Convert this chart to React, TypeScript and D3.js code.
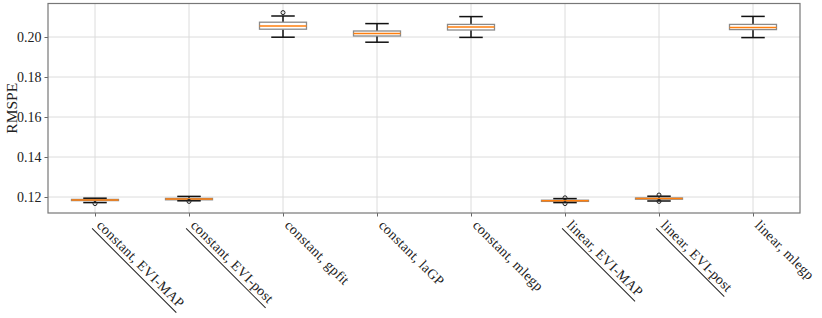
import React, { useRef, useEffect } from 'react'
import { select, scaleLinear, scalePoint, axisLeft, axisBottom } from 'd3'

const categories = [
  'constant, EVI-MAP',
  'constant, EVI-post',
  'constant, gpfit',
  'constant, laGP',
  'constant, mlegp',
  'linear, EVI-MAP',
  'linear, EVI-post',
  'linear, mlegp',
]
const underlined = [true, true, false, false, false, true, true, false]

const whiskerLow = [0.1172, 0.1181, 0.1999, 0.1974, 0.1998, 0.1172, 0.1180, 0.1997]
const q1 = [0.1182, 0.1186, 0.2039, 0.2005, 0.2035, 0.1178, 0.1189, 0.2037]
const median = [0.1185, 0.119, 0.2055, 0.2017, 0.205, 0.1181, 0.1192, 0.2048]
const q3 = [0.1188, 0.1193, 0.2074, 0.203, 0.2063, 0.1184, 0.1195, 0.2063]
const whiskerHigh = [0.1194, 0.1203, 0.2105, 0.2067, 0.2102, 0.1192, 0.1204, 0.2103]
const fliers = [[0.1167], [0.1178], [0.2122], [], [], [0.1196, 0.1167], [0.121, 0.1178], []]

const yTicks = [0.12, 0.14, 0.16, 0.18, 0.2]

const W = 822
const H = 318
const m = { left: 48, right: 22, top: 3.5, bottom: 105 }
const FONT = '"Liberation Serif", "Times New Roman", serif'

function App() {
  const svgRef = useRef<SVGSVGElement>(null)

  useEffect(() => {
    const svg = select(svgRef.current)
    svg.selectAll('*').remove()

    const x = scalePoint<string>()
      .domain(categories)
      .range([m.left, W - m.right])
      .padding(0.5)
    const y = scaleLinear().domain([0.112, 0.21675]).range([H - m.bottom, m.top])
    const step = x.step()
    const boxW = step * 0.5
    const capW = step * 0.25

    // grid
    const grid = svg.append('g')
    grid.selectAll('.gy').data(yTicks).join('line')
      .attr('x1', m.left).attr('x2', W - m.right)
      .attr('y1', d => y(d)).attr('y2', d => y(d))
      .attr('stroke', '#dcdcdc').attr('stroke-width', 1)
    grid.selectAll('.gx').data(categories).join('line')
      .attr('x1', d => x(d)!).attr('x2', d => x(d)!)
      .attr('y1', m.top).attr('y2', H - m.bottom)
      .attr('stroke', '#dcdcdc').attr('stroke-width', 1)

    // boxes
    const g = svg.append('g')
    categories.forEach((c, i) => {
      const cx = x(c)!
      g.append('line')
        .attr('x1', cx).attr('x2', cx)
        .attr('y1', y(whiskerLow[i])).attr('y2', y(q1[i]))
        .attr('stroke', '#111').attr('stroke-width', 1.5)
      g.append('line')
        .attr('x1', cx).attr('x2', cx)
        .attr('y1', y(q3[i])).attr('y2', y(whiskerHigh[i]))
        .attr('stroke', '#111').attr('stroke-width', 1.5)
      g.append('rect')
        .attr('x', cx - boxW / 2).attr('width', boxW)
        .attr('y', y(q3[i])).attr('height', Math.max(0.5, y(q1[i]) - y(q3[i])))
        .attr('fill', 'white').attr('stroke', '#8a8a8a').attr('stroke-width', 1.3)
      ;[whiskerLow[i], whiskerHigh[i]].forEach(v => {
        g.append('line')
          .attr('x1', cx - capW / 2).attr('x2', cx + capW / 2)
          .attr('y1', y(v)).attr('y2', y(v))
          .attr('stroke', '#111').attr('stroke-width', 1.5)
      })
      g.append('line')
        .attr('x1', cx - boxW / 2).attr('x2', cx + boxW / 2)
        .attr('y1', y(median[i])).attr('y2', y(median[i]))
        .attr('stroke', '#ff7f0e').attr('stroke-width', 1.5)
      g.selectAll(null).data(fliers[i]).join('circle')
        .attr('cx', cx).attr('cy', d => y(d)).attr('r', 2)
        .attr('fill', 'none').attr('stroke', '#222').attr('stroke-width', 1)
    })

    // axes
    const yAxis = axisLeft(y).tickValues(yTicks).tickSize(3.5).tickPadding(3).tickFormat(d => (+d).toFixed(2))
    const ya = svg.append('g').attr('transform', `translate(${m.left},0)`).call(yAxis)
    ya.select('.domain').remove()
    ya.selectAll('line').attr('stroke', '#666')
    ya.selectAll('text').attr('font-family', FONT).attr('font-size', 14).attr('fill', '#222')

    const xAxis = axisBottom(x).tickSize(3.5).tickFormat(() => '')
    const xa = svg.append('g').attr('transform', `translate(0,${H - m.bottom})`).call(xAxis)
    xa.select('.domain').remove()
    xa.selectAll('line').attr('stroke', '#666')

    // frame
    svg.append('rect')
      .attr('x', m.left).attr('y', m.top)
      .attr('width', W - m.left - m.right).attr('height', H - m.top - m.bottom)
      .attr('fill', 'none').attr('stroke', '#777').attr('stroke-width', 1.2)

    // x tick labels
    categories.forEach((c, i) => {
      const lg = svg.append('g')
        .attr('transform', `translate(${x(c)! + 1},${H - m.bottom + 13}) rotate(45)`)
      const t = lg.append('text')
        .attr('font-family', FONT).attr('font-size', 14).attr('letter-spacing', 0.3)
        .attr('fill', '#222')
        .text(c)
      if (underlined[i]) {
        const len = (t.node() as SVGTextElement).getComputedTextLength()
        lg.append('line')
          .attr('x1', -1).attr('x2', len + 1)
          .attr('y1', 4.5).attr('y2', 4.5)
          .attr('stroke', '#222').attr('stroke-width', 1)
      }
    })

    // y label
    svg.append('text')
      .attr('transform', `translate(17,${(m.top + H - m.bottom) / 2}) rotate(-90)`)
      .attr('text-anchor', 'middle')
      .attr('font-family', FONT).attr('font-size', 15.5).attr('fill', '#222')
      .text('RMSPE')
  }, [])

  return (
    <svg
      ref={svgRef}
      width={W}
      height={H}
      style={{ position: 'absolute', left: 0, top: 0, background: 'white' }}
    />
  )
}

export default App
